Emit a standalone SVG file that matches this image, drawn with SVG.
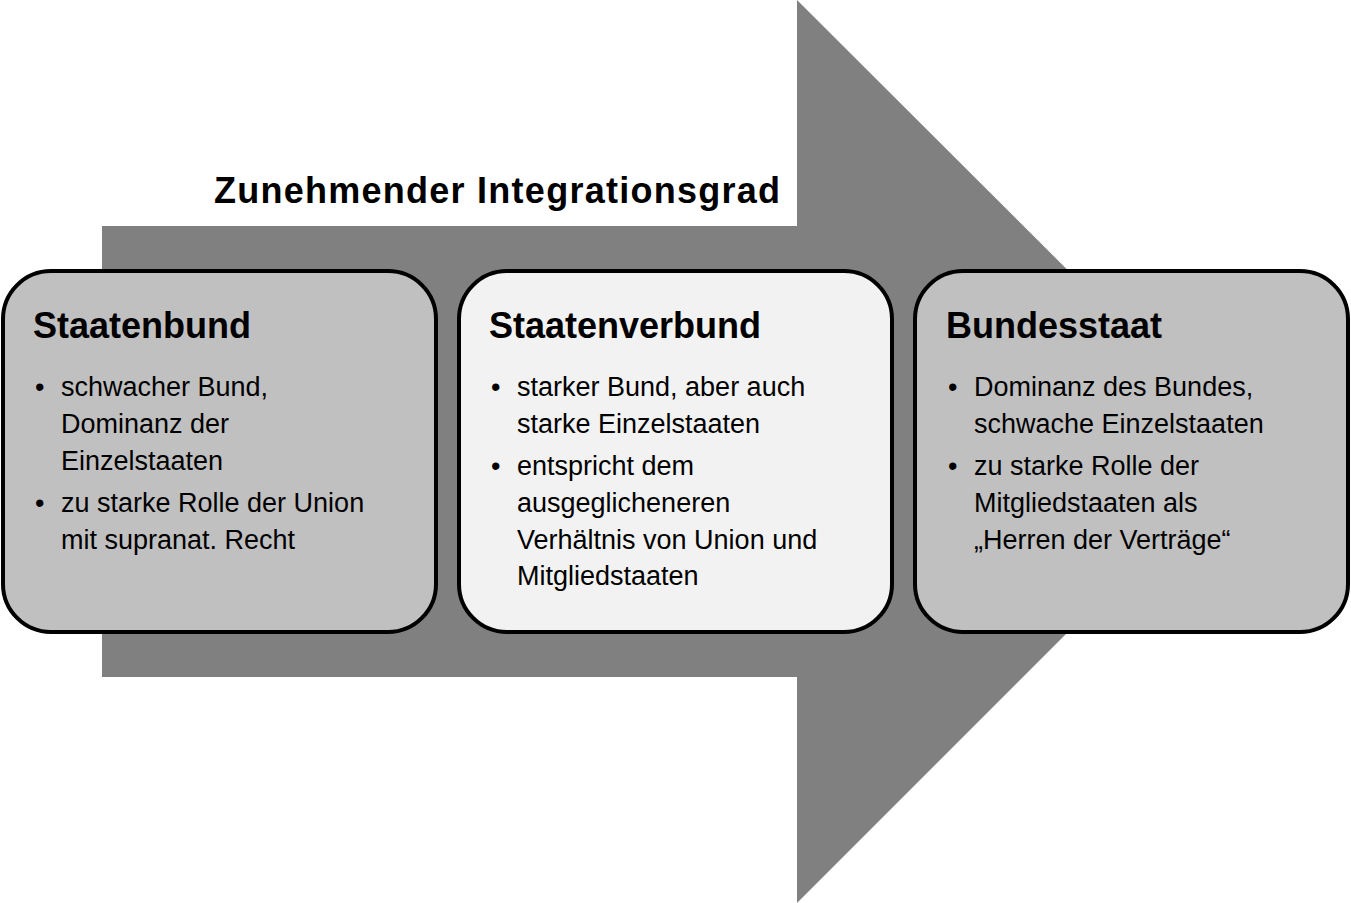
<svg xmlns="http://www.w3.org/2000/svg" width="1351" height="903" viewBox="0 0 1351 903">
<style>
.box{stroke:#000;stroke-width:4}
.h{font-family:"Liberation Sans",Arial,sans-serif;font-weight:bold;font-size:36px;fill:#000}
.t{font-family:"Liberation Sans",Arial,sans-serif;font-size:27px;fill:#000}
</style>
<rect width="1351" height="903" fill="#fff"/>
<g id="arrow"><polygon points="102,226 797,226 797,0 1249,451 797,903 797,677 102,677" fill="#808080"/></g>
<text class="h" x="214" y="203" textLength="566">Zunehmender Integrationsgrad</text>
<g id="staatenbund">
<rect class="box" x="3" y="271" width="433" height="361" rx="48" fill="#c0c0c0"/>
<text class="h" x="33" y="338">Staatenbund</text>
<text class="t"><tspan x="35" y="396">•</tspan><tspan x="61" y="396">schwacher Bund,</tspan><tspan x="61" y="433">Dominanz der</tspan><tspan x="61" y="470">Einzelstaaten</tspan><tspan x="35" y="512">•</tspan><tspan x="61" y="512">zu starke Rolle der Union</tspan><tspan x="61" y="549">mit supranat. Recht</tspan></text>
</g>
<g id="staatenverbund">
<rect class="box" x="459" y="271" width="433" height="361" rx="48" fill="#f2f2f2"/>
<text class="h" x="489" y="338">Staatenverbund</text>
<text class="t"><tspan x="491" y="396">•</tspan><tspan x="517" y="396">starker Bund, aber auch</tspan><tspan x="517" y="433">starke Einzelstaaten</tspan><tspan x="491" y="475">•</tspan><tspan x="517" y="475">entspricht dem</tspan><tspan x="517" y="512">ausgeglicheneren</tspan><tspan x="517" y="549">Verhältnis von Union und</tspan><tspan x="517" y="585">Mitgliedstaaten</tspan></text>
</g>
<g id="bundesstaat">
<rect class="box" x="915" y="271" width="433" height="361" rx="48" fill="#c0c0c0"/>
<text class="h" x="946" y="338">Bundesstaat</text>
<text class="t"><tspan x="948" y="396">•</tspan><tspan x="974" y="396">Dominanz des Bundes,</tspan><tspan x="974" y="433">schwache Einzelstaaten</tspan><tspan x="948" y="475">•</tspan><tspan x="974" y="475">zu starke Rolle der</tspan><tspan x="974" y="512">Mitgliedstaaten als</tspan><tspan x="974" y="549">„Herren der Verträge“</tspan></text>
</g>
<g id="connectors"/>
</svg>
